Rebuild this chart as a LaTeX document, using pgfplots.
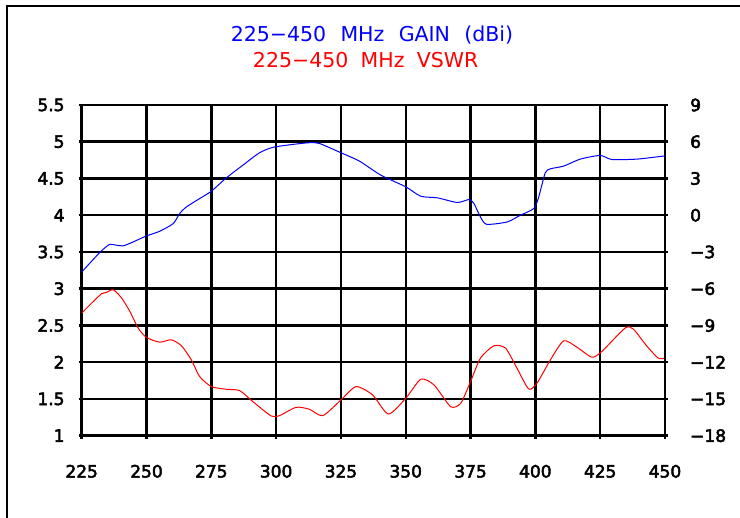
\documentclass[border=0pt]{standalone}
\usepackage{pgfplots}
\pgfplotsset{compat=1.18}
\usepackage{fontspec}
\setmainfont{DejaVu Sans}
\newfontfamily\tickfont[FakeBold=3]{DejaVu Sans}
\definecolor{gblue}{RGB}{0,0,255}
\definecolor{vred}{RGB}{255,0,0}
\begin{document}
\begin{tikzpicture}[x=1pt,y=1pt]
\useasboundingbox (-81.7pt,-82.3pt) rectangle (658.3pt,435.7pt);
% frame
\draw[line width=2pt] (-74.7pt,-90pt) -- (-74.7pt,429.7pt) -- (670pt,429.7pt);
% titles
\node[anchor=base, text=gblue, inner sep=0pt] at (290.3pt,393.7pt) {\fontsize{20.5}{24}\selectfont\spaceskip=0.7em 225−450 MHz GAIN (dBi)};
\node[anchor=base, text=vred, inner sep=0pt] at (284pt,367.7pt) {\fontsize{20.5}{24}\selectfont\spaceskip=0.6em 225−450 MHz VSWR};
\begin{axis}[
  at={(0pt,0pt)}, anchor=south west,
  scale only axis, width=583.3pt, height=330.7pt,
  xmin=225, xmax=450, ymin=1, ymax=5.5,
  xtick={225,250,...,450}, ytick={1,1.5,...,5.5},
  grid=major, major grid style={line width=2.5pt, black},
  axis line style={line width=2.5pt, black},
  axis x line*=bottom, axis y line*=left,
  tick align=outside, major tick length=3pt,
  major tick style={line width=2.5pt, black},
  /pgf/number format/assume math mode=true,
  tick label style={font=\fontsize{17}{20}\selectfont\tickfont, inner sep=0pt},
  yticklabel style={anchor=east, xshift=-14pt},
  xticklabel style={anchor=north, yshift=-26pt},
  clip=false,
]
% top and right border
\draw[line width=2.5pt, black] (axis cs:225,5.5) -- (axis cs:450,5.5) -- (axis cs:450,1);
\addplot[vred, line width=1pt, smooth, tension=0.4] coordinates {
(225,2.668) (229.5,2.827) (232.7,2.932) (234.6,2.95) (237.2,2.986) (240.4,2.873)
(243.6,2.69) (246.8,2.464) (250,2.336) (255.1,2.273) (259.6,2.305) (263.5,2.223)
(267.3,2.032) (270.5,1.805) (275,1.668) (280.8,1.632) (285.9,1.614) (291,1.464)
(298.1,1.268) (301.3,1.273) (307.7,1.386) (312.8,1.36) (318,1.273) (325,1.486)
(330.8,1.668) (337.2,1.555) (343.3,1.295) (350,1.509) (355.8,1.768) (360.9,1.691)
(367.3,1.395) (371.2,1.441) (375,1.736) (378.8,2.055) (384,2.223) (388.5,2.191)
(392.9,1.918) (397.4,1.636) (400.6,1.714) (405.8,2.032) (410.9,2.291) (416,2.205)
(421.8,2.068) (425.6,2.145) (434.6,2.464) (437.8,2.45) (442.9,2.223) (447.4,2.055)
(450,2.055)
};
\end{axis}
\begin{axis}[
  at={(0pt,0pt)}, anchor=south west,
  scale only axis, width=583.3pt, height=330.7pt,
  xmin=225, xmax=450, ymin=-18, ymax=9,
  axis x line=none, axis y line*=right,
  ytick={-18,-15,...,9},
  yticklabels={−18,−15,−12,−9,−6,−3,0,3,6,9},
  axis line style={line width=2.5pt, black},
  tick align=outside, major tick length=3pt,
  major tick style={line width=2.5pt, black},
  /pgf/number format/assume math mode=true,
  tick label style={font=\fontsize{17}{20}\selectfont\tickfont, inner sep=0pt},
  yticklabel style={anchor=west, xshift=22pt},
]
\addplot[gblue, line width=1pt, smooth, tension=0.4] coordinates {
(225,-4.64) (231.8,-3.08) (235.6,-2.4) (238.5,-2.45) (241,-2.5) (244.2,-2.24)
(250,-1.69) (255.1,-1.31) (260.3,-0.68) (262.8,0.14) (265.4,0.68) (270.5,1.36)
(275,1.96) (280.8,3.05) (287.2,4.09) (293.6,5.1) (298.7,5.54) (306.4,5.78)
(312.8,5.92) (316.7,5.86) (325,5.1) (332.1,4.42) (340.4,3.27) (350,2.32)
(355.8,1.55) (362.2,1.42) (369.9,1.04) (374.4,1.28) (376.3,0.96) (378.8,-0.14)
(381.2,-0.74) (389.1,-0.55) (394.2,0) (399.4,0.55) (401.3,1.5) (403.8,3.46)
(405.8,3.79) (410.9,4.01) (417.3,4.58) (425,4.88) (429.5,4.55) (439.1,4.58)
(449.4,4.83) (450,4.84)
};
\end{axis}
\end{tikzpicture}
\end{document}
